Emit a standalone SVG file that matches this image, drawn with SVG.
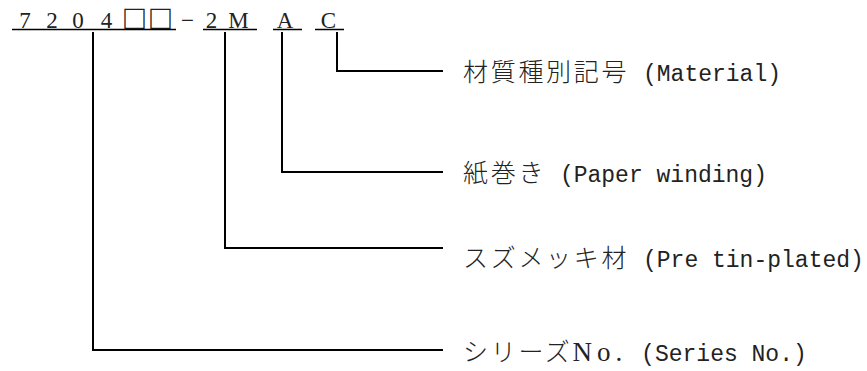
<svg xmlns="http://www.w3.org/2000/svg" width="867" height="371" viewBox="0 0 867 371">
<style>
.code{font-family:"Liberation Serif","Noto Sans CJK JP",serif;font-size:23px;fill:#222}
.sq{font-family:"Liberation Serif","DejaVu Serif",serif;font-size:34px;fill:#222}
.ja{font-family:"Noto Sans CJK JP",sans-serif;font-size:25px;letter-spacing:2.7px;fill:#222;font-weight:300}
.no{font-family:"Liberation Serif",serif;font-size:27px;letter-spacing:5px;fill:#222}
.en{font-family:"Liberation Mono",monospace;font-size:23px;fill:#222}
.ul{stroke:#000;stroke-width:1.4;fill:none}
.conn{stroke:#000;stroke-width:2;fill:none}
</style>
<rect width="867" height="371" fill="#fff"/>
<g id="code">
<text class="code" y="27.5" text-anchor="middle"><tspan x="25">7</tspan><tspan x="52">2</tspan><tspan x="78">0</tspan><tspan x="106.5">4</tspan><tspan class="sq" x="134.5" y="28.5">□</tspan><tspan class="sq" x="160.5" y="28.5">□</tspan><tspan x="187.5" y="27.5">−</tspan><tspan x="211.5">2</tspan><tspan x="238.5">M</tspan><tspan x="285">A</tspan><tspan x="328.5">C</tspan></text>
<path class="ul" d="M12 29.5H176M203 29.5H257M273 29.5H302M315 29.5H344"/>
</g>
<g id="connectors">
<path class="conn" d="M337 32V71H443"/>
<path class="conn" d="M282 32V172H443"/>
<path class="conn" d="M225 32V248H443"/>
<path class="conn" d="M93 32V350H443"/>
</g>
<g id="label-material"><text x="463" y="81"><tspan class="ja">材質種別記号</tspan><tspan class="en"> (Material)</tspan></text></g>
<g id="label-paper"><text x="463" y="182"><tspan class="ja">紙巻き</tspan><tspan class="en"> (Paper winding)</tspan></text></g>
<g id="label-tin"><text x="463" y="267"><tspan class="ja">スズメッキ材</tspan><tspan class="en"> (Pre tin-plated)</tspan></text></g>
<g id="label-series"><text x="463" y="361"><tspan class="ja">シリーズ</tspan><tspan class="no">No.</tspan><tspan class="en"> (Series No.)</tspan></text></g>
</svg>
